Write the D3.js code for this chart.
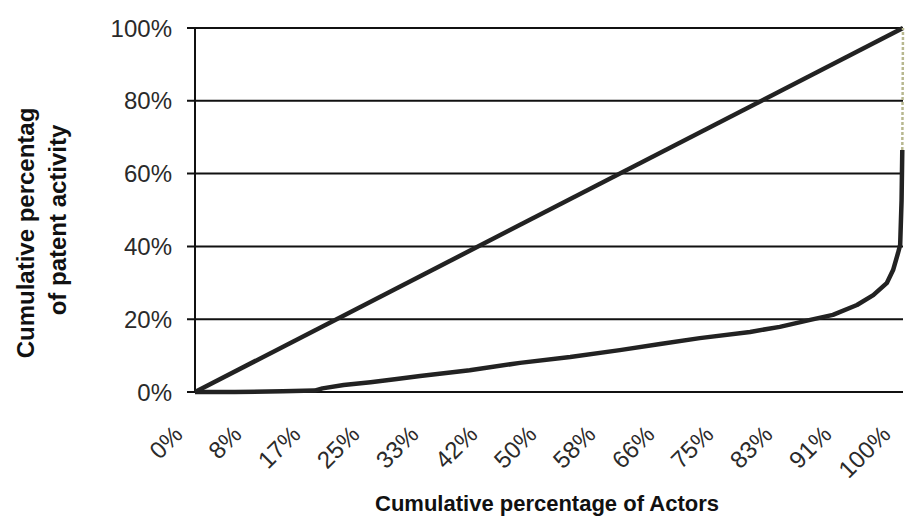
<!DOCTYPE html>
<html>
<head>
<meta charset="utf-8">
<script src="https://cdn.jsdelivr.net/npm/d3@7/dist/d3.min.js"></script>
<style>
  html, body { margin: 0; padding: 0; background: #fff; }
  svg { display: block; }
</style>
</head>
<body>
<svg id="chart" width="906" height="518"></svg>
<script>
// ---- data ----
const xTickLabels = ["0%", "8%", "17%", "25%", "33%", "42%", "50%", "58%", "66%", "75%", "83%", "91%", "100%"];
const yTickValues = [0, 20, 40, 60, 80, 100];
const equalityX = [0, 100];
const equalityY = [0, 100];
const lorenzX = [0, 5.6, 12.4, 16.9, 18.0, 21.0, 24.8, 28.5, 31.8, 38.8, 45.9, 53.0, 60.0, 65.7, 71.3, 78.4, 82.6, 86.9, 90.1, 93.5, 95.8, 97.7, 98.6, 99.3, 99.6, 99.8, 99.9];
const lorenzY = [0, 0, 0.2, 0.4, 1.0, 1.9, 2.7, 3.6, 4.4, 6.0, 8.0, 9.6, 11.5, 13.2, 14.8, 16.5, 17.9, 19.8, 21.2, 23.9, 26.6, 29.9, 33.5, 38.2, 40.4, 52.7, 66.5];
const lorenzTopX = [99.9, 100];
const lorenzTopY = [66.5, 100];

// ---- layout ----
const svg = d3.select("#chart");
const mLeft = 195, mRight = 903, mTop = 28, mBottom = 392;
const x = d3.scaleLinear().domain([0, 100]).range([mLeft, mRight]);
const y = d3.scaleLinear().domain([0, 100]).range([mBottom, mTop]);
const font = "'Liberation Sans', Arial, sans-serif";

// gridlines
svg.append("g").selectAll("line").data(yTickValues).join("line")
  .attr("x1", x(0) - 8).attr("x2", x(100))
  .attr("y1", d => y(d)).attr("y2", d => y(d))
  .attr("stroke", "#111").attr("stroke-width", 2);

// y axis line
svg.append("line")
  .attr("x1", x(0)).attr("x2", x(0)).attr("y1", y(0)).attr("y2", y(100))
  .attr("stroke", "#111").attr("stroke-width", 2);

// y tick labels
svg.append("g").selectAll("text").data(yTickValues).join("text")
  .attr("x", x(0) - 23).attr("y", d => y(d))
  .attr("text-anchor", "end").attr("dominant-baseline", "central")
  .attr("font-family", font).attr("font-size", 24).attr("fill", "#2a2a2a")
  .text(d => d + "%");

// x tick labels
svg.append("g").selectAll("text").data(xTickLabels).join("text")
  .attr("transform", (d, i) => `translate(${x(i * 100 / 12) - 11},${436}) rotate(-45)`)
  .attr("text-anchor", "end")
  .attr("font-family", font).attr("font-size", 24).attr("fill", "#2a2a2a")
  .text(d => d);

// lines
const line = d3.line().x(d => x(d[0])).y(d => y(d[1]));
svg.append("path").datum(equalityX.map((v, i) => [v, equalityY[i]]))
  .attr("d", line).attr("fill", "none").attr("stroke", "#222").attr("stroke-width", 4.5);
svg.append("path").datum(lorenzX.map((v, i) => [v, lorenzY[i]]))
  .attr("d", line).attr("fill", "none").attr("stroke", "#222").attr("stroke-width", 4.5)
  .attr("stroke-linejoin", "round");
svg.append("path").datum(lorenzTopX.map((v, i) => [v, lorenzTopY[i]]))
  .attr("d", line).attr("fill", "none").attr("stroke", "#b8b890").attr("stroke-width", 2.5)
  .attr("stroke-dasharray", "3,2");

// axis titles
svg.append("text")
  .attr("transform", `translate(34,233) rotate(-90)`)
  .attr("text-anchor", "middle")
  .attr("font-family", font).attr("font-size", 24).attr("font-weight", "bold").attr("fill", "#111")
  .text("Cumulative percentag");
svg.append("text")
  .attr("transform", `translate(66,220) rotate(-90)`)
  .attr("text-anchor", "middle")
  .attr("font-family", font).attr("font-size", 24).attr("font-weight", "bold").attr("fill", "#111")
  .text("of patent activity");
svg.append("text")
  .attr("x", 547).attr("y", 511)
  .attr("text-anchor", "middle")
  .attr("font-family", font).attr("font-size", 22).attr("font-weight", "bold").attr("fill", "#111")
  .text("Cumulative percentage of Actors");
</script>
</body>
</html>
